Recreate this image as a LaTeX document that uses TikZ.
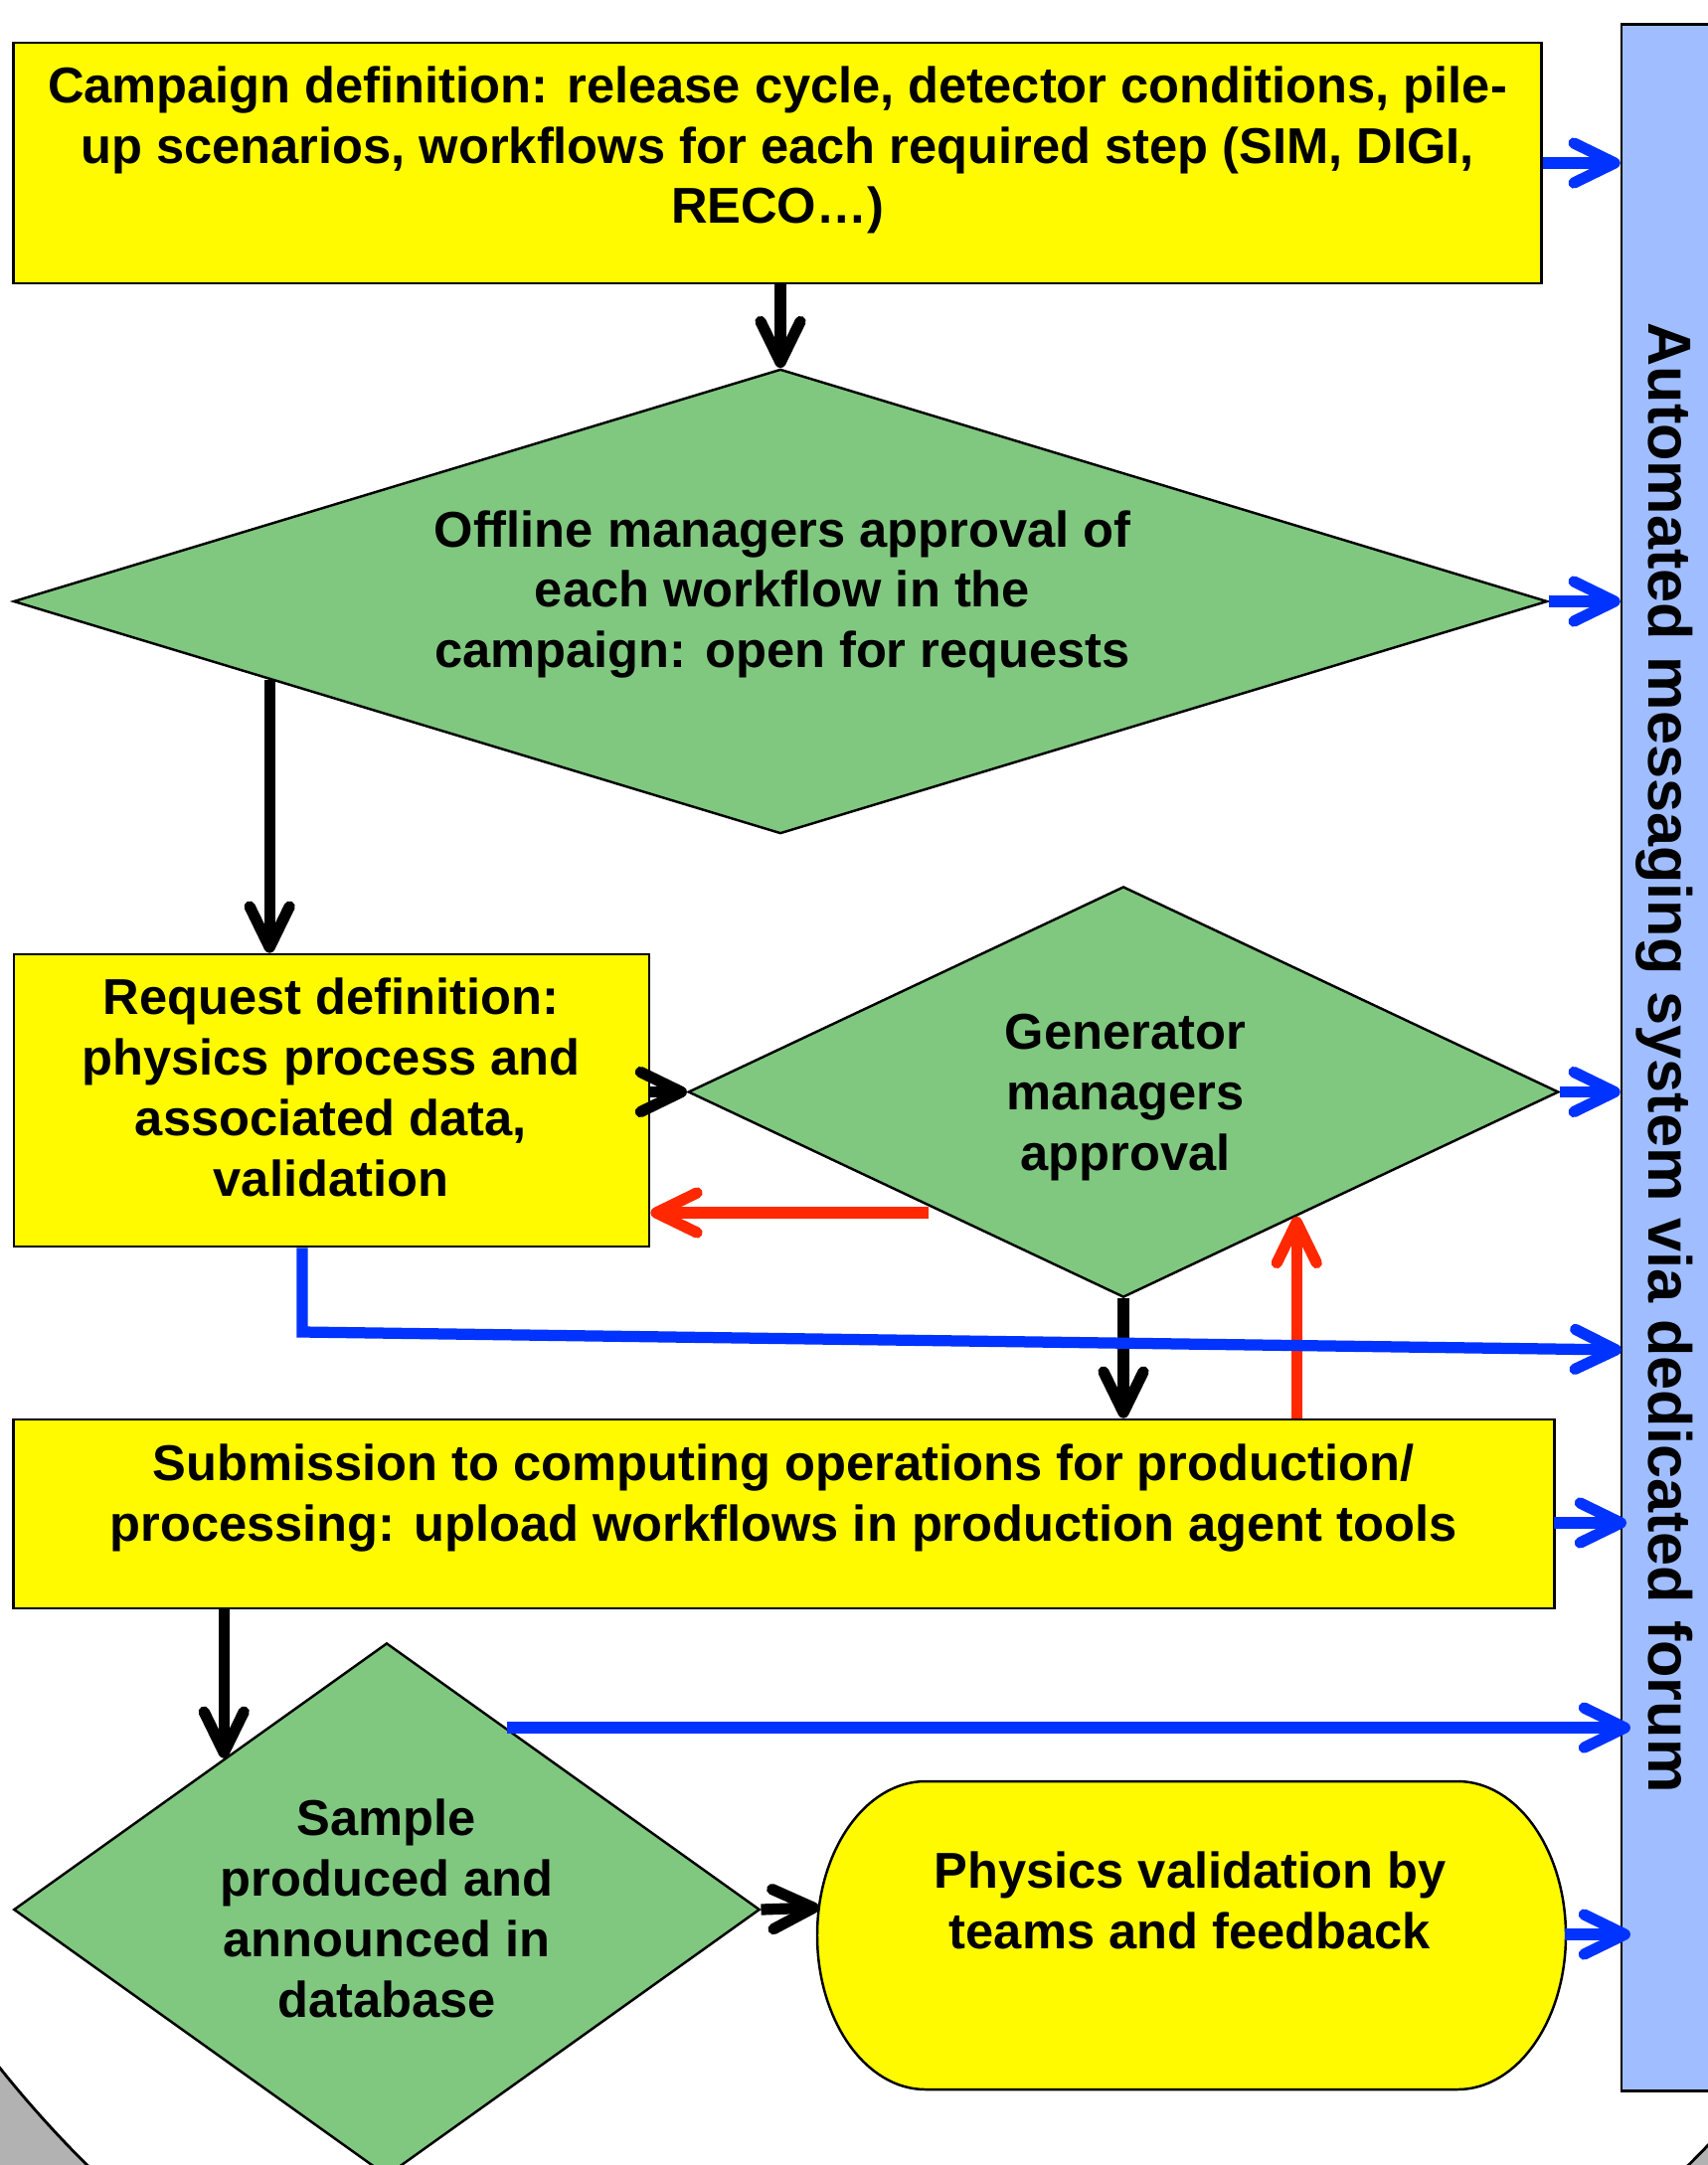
\documentclass[tikz,border=0pt]{standalone}
\usepackage{fontspec}
\setmainfont{Liberation Sans}
\usetikzlibrary{shapes.geometric,arrows.meta,calc}
\definecolor{boxyellow}{RGB}{255,250,0}
\definecolor{dgreen}{RGB}{128,200,128}
\definecolor{barblue}{RGB}{160,190,255}
\definecolor{arrblue}{RGB}{0,51,255}
\definecolor{arrred}{RGB}{255,40,0}
\definecolor{bggray}{RGB}{178,178,178}
\begin{document}
\begin{tikzpicture}[x=0.01cm,y=-0.01cm,
  ybox/.style={draw=black, line width=0.7pt, fill=boxyellow, inner sep=0pt, rectangle},
  gdia/.style={draw=black, line width=0.7pt, fill=dgreen, inner sep=0pt, diamond},
  txt/.style={font=\fontsize{14.4}{17.3}\selectfont\bfseries, align=center, inner sep=0pt},
  bartxt/.style={font=\fontsize{17.4}{20}\selectfont\bfseries, inner sep=0pt},
  flow/.style={line width=3.2pt, -{Straight Barb[length=4.1mm,width=4mm,round]}},
  blk/.style={flow, draw=black},
  blu/.style={flow, draw=arrblue},
  rd/.style={flow, draw=arrred}]
\clip (0,0) rectangle (1718,2178);
\fill[white] (0,0) rectangle (1718,2178);
% background circle (bottom corners)
\begin{scope}
  \clip (0,1900) rectangle (1718,2178);
  \fill[bggray] (0,1900) rectangle (1718,2178);
  \filldraw[fill=white, draw=black, line width=0.8pt] (893,1367) circle[radius=1143];
\end{scope}

% messaging bar
\node[ybox, fill=barblue, minimum width=1.09cm, minimum height=20.78cm] (bar) at (1685.5,1064) {};
\node[bartxt, rotate=-90] (bartext) at (1674,1064) {Automated messaging system via dedicated forum};

% shapes
\node[ybox, minimum width=15.36cm, minimum height=2.42cm] (camp) at (782,164) {};
\node[txt] (campt) at (782,151) {Campaign definition: release cycle, detector conditions, pile-\\up scenarios, workflows for each required step (SIM, DIGI,\\RECO…)};

\node[gdia, minimum width=15.42cm, minimum height=4.67cm] (off) at (785,605) {};
\node[txt] (offt) at (787,598) {Offline managers approval of\\each workflow in the\\campaign: open for requests};

\node[ybox, minimum width=6.39cm, minimum height=2.94cm] (req) at (333.5,1107) {};
\node[txt] (reqt) at (333,1094) {Request definition:\\physics process and\\associated data,\\validation};

\node[gdia, minimum width=8.75cm, minimum height=4.13cm] (gen) at (1130,1098.5) {};
\node[txt] (gent) at (1132,1104) {Generator\\managers\\approval};

\node[ybox, minimum width=15.49cm, minimum height=1.90cm] (sub) at (788.5,1523) {};
\node[txt] (subt) at (788,1507) {Submission to computing operations for production/\\processing: upload workflows in production agent tools};

\node[gdia, minimum width=7.50cm, minimum height=5.36cm] (sam) at (389,1921) {};
\node[txt] (samt) at (389,1920) {Sample\\produced and\\announced in\\database};

\filldraw[fill=boxyellow, draw=black, line width=0.7pt] (931,1792) -- (1466,1792)
  arc[start angle=-90, end angle=90, x radius=109, y radius=155] -- (931,2102)
  arc[start angle=90, end angle=270, x radius=109, y radius=155] -- cycle;
\node[txt] (phys) at (1197,1912) {Physics validation by\\teams and feedback};
\coordinate (physW) at (824,1919);
\coordinate (physE) at (1574,1946);

% helper coordinates
\coordinate (a1) at ($(off.west)!0.335!(off.south)$);
\coordinate (r1) at (934,1220);
\coordinate (r2) at ($(gen.east)!0.603!(gen.south)$);
\coordinate (s1) at ($(sam.north)!0.321!(sam.east)$);
\coordinate (s2) at ($(sam.west)!0.565!(sam.north)$);
\coordinate (bc) at (304,1340);
\coordinate (bt) at (1631,1358);
\coordinate (subE) at (1563,1532);
\coordinate (subT) at (1636,1532);
\coordinate (samT) at (1640,1739);
\coordinate (physT) at (1640,1946);

% black flow
\draw[blk] (camp.south -| off.north) -- (off.north);
\draw[blk] (a1) -- (a1 |- req.north);
\draw[blk] (req.east |- gen.west) -- (gen.west);
\draw[blk] (gen.south) -- (gen.south |- sub.north);
\draw[blk] (s2 |- sub.south) -- (s2);
\draw[blk] (sam.east) -- (physW);

% red feedback
\draw[rd] (r1) -- (r1 -| req.east);
\draw[rd] (r2 |- sub.north) -- (r2);

% blue messaging
\draw[blu] (camp.east) -- (camp.east -| bar.west);
\draw[blu] (off.east) -- (off.east -| bar.west);
\draw[blu] (gen.east) -- (gen.east -| bar.west);
\draw[blu] (bc |- req.south) -- (bc) -- (bt);
\draw[blu] (subE) -- (subT);
\draw[blu] (s1) -- (s1 -| samT);
\draw[blu] (physE) -- (physT);
\end{tikzpicture}
\end{document}
